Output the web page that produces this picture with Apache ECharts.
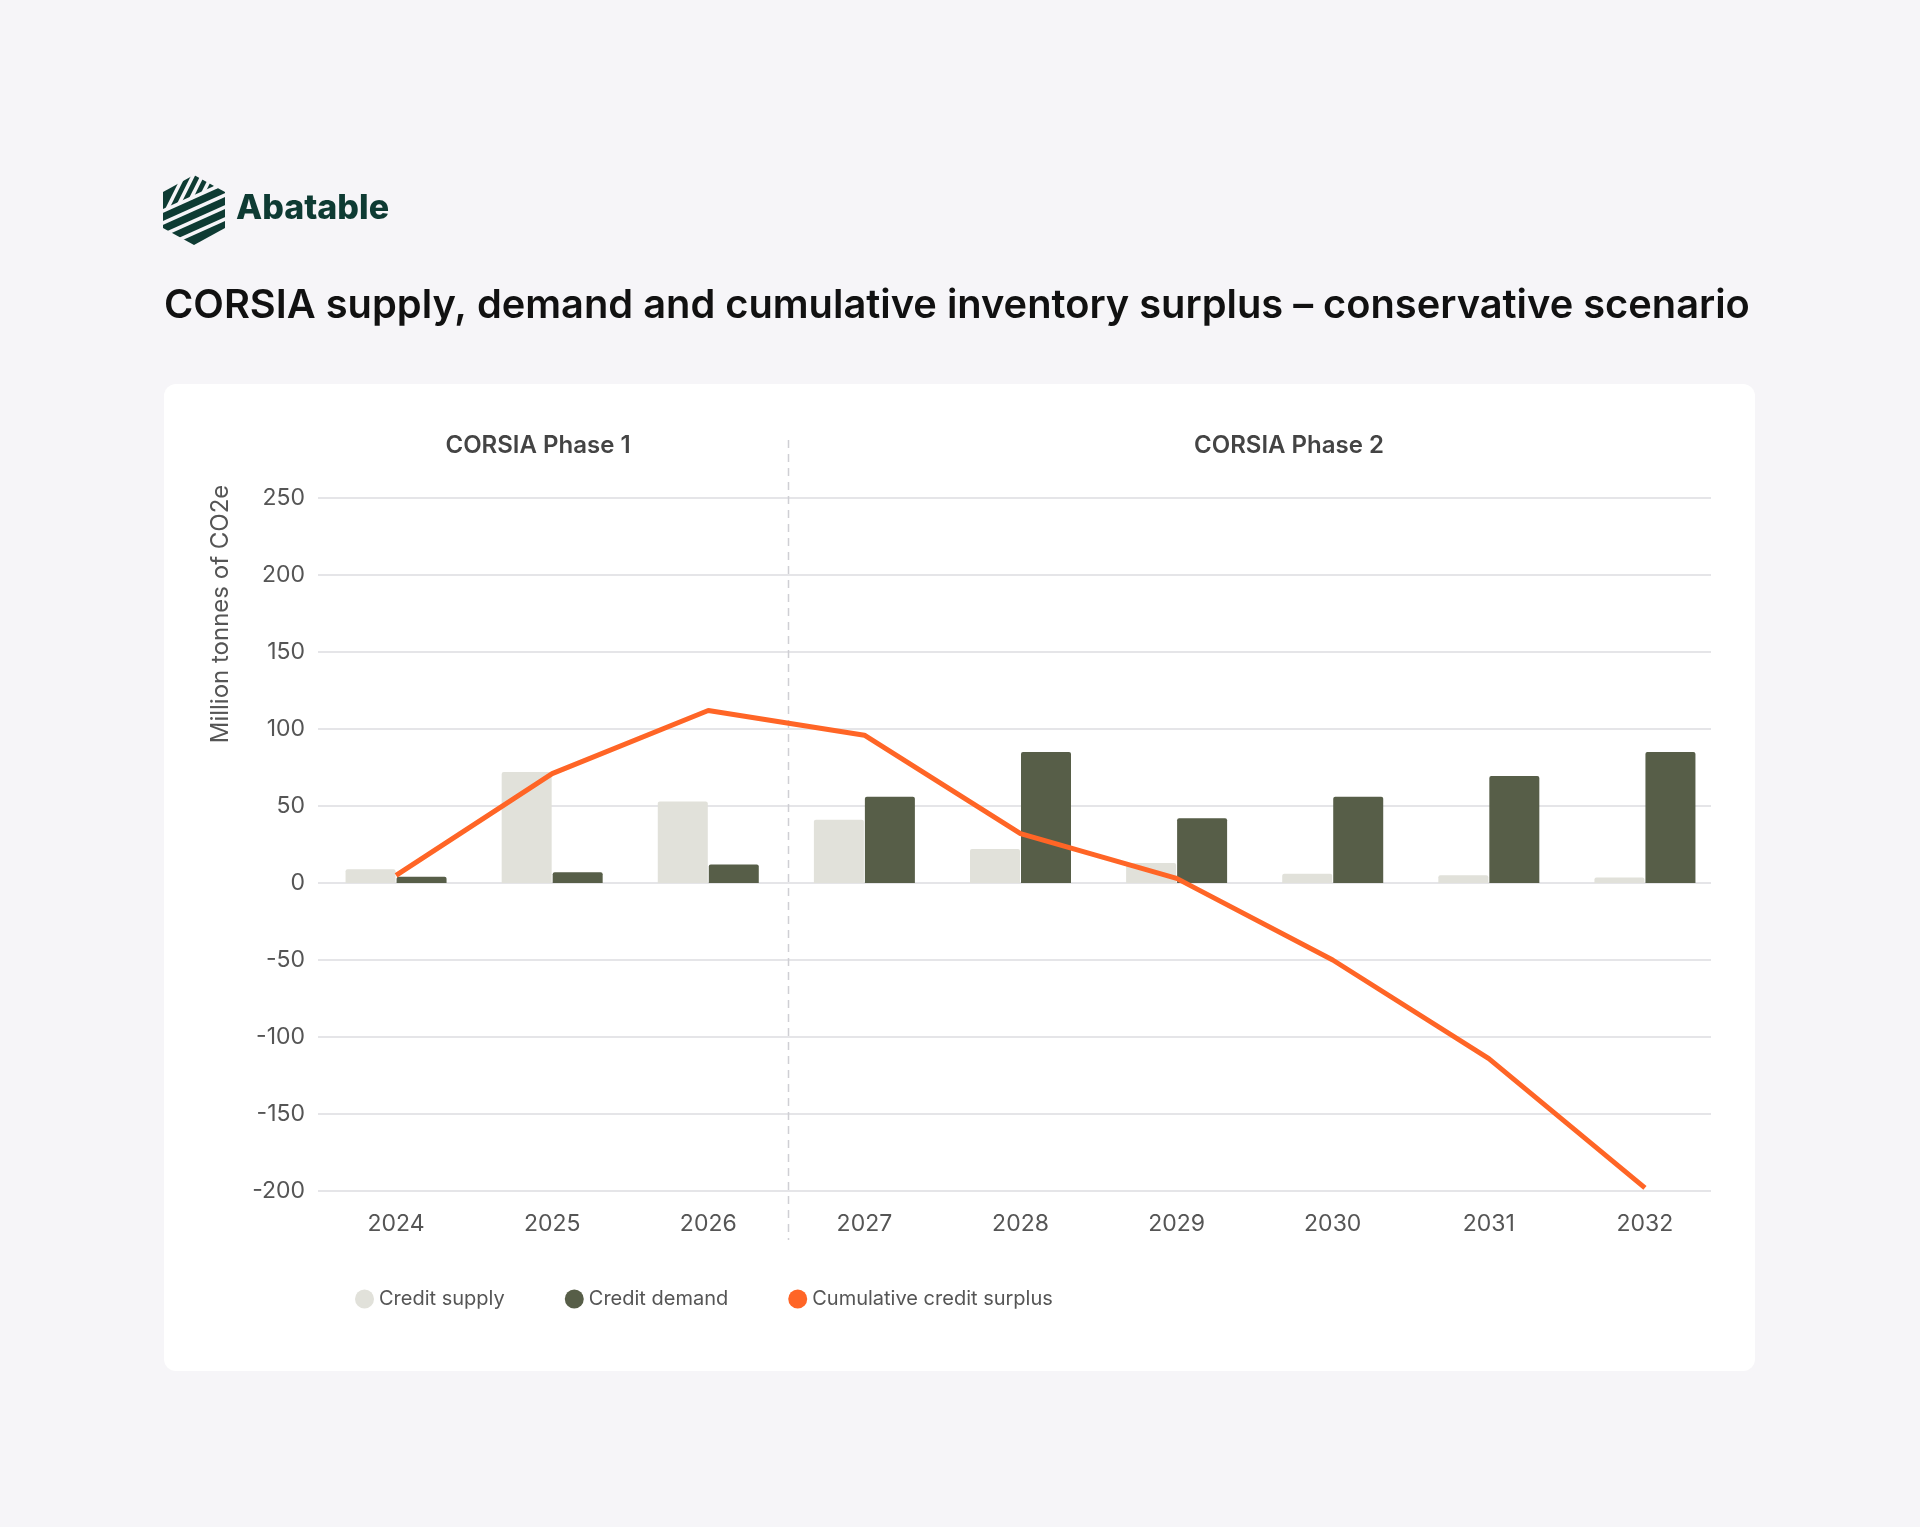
<!DOCTYPE html>
<html>
<head>
<meta charset="utf-8">
<script src="https://cdn.jsdelivr.net/npm/echarts@6/dist/echarts.min.js"></script>
<style>
  html, body { margin: 0; padding: 0; background: #f6f5f8; }
  #chart { width: 1920px; height: 1527px; }
</style>
</head>
<body>
<div id="chart"></div>
<script>
// values (million tonnes of CO2e)
var years = ['2024', '2025', '2026', '2027', '2028', '2029', '2030', '2031', '2032'];
var creditSupply = [9, 72, 53, 41, 22, 13, 6, 5, 3.5];
var creditDemand = [4, 7, 12, 56, 85, 42, 56, 69.5, 85];
var cumulativeSurplus = [5, 71, 112, 96, 32, 3, -50, -114, -198];
var yTicks = { min: -200, max: 250, step: 50 };

var BG = '#f6f5f8';
var LOGO = '#0e3b33';
var FONT = 'Inter, "Noto Sans", sans-serif';

var chart = echarts.init(document.getElementById('chart'));

// small logo: dark hexagon cut by background coloured gaps
function logoGroup() {
  var kids = [{
    type: 'polygon',
    shape: { points: [[31, 0], [62, 17], [62, 53], [31, 70], [0, 53], [0, 17]] },
    style: { fill: LOGO }
  }];
  // shallow gaps in the lower part
  [36, 48, 60, 72].forEach(function (c) {
    kids.push({
      type: 'line',
      shape: { x1: -6, y1: c + 2.7, x2: 68, y2: c - 30.6 },
      style: { stroke: BG, lineWidth: 3.6 }
    });
  });
  // steep gaps above the fold
  [4, 16, 28, 40, 52].forEach(function (px) {
    var py = 36 - 0.45 * px;
    kids.push({
      type: 'line',
      shape: { x1: px, y1: py, x2: px + (py + 6) / 2, y2: -6 },
      style: { stroke: BG, lineWidth: 3.6 }
    });
  });
  return { type: 'group', x: 163, y: 175, children: kids, z: 10 };
}

var baseGraphic = [
  {
    type: 'rect', z: -10, silent: true,
    shape: { x: 164, y: 384, width: 1591, height: 987, r: 12 },
    style: { fill: '#ffffff' }
  },
  logoGroup(),
  {
    type: 'text', x: 236, y: 209, z: 10,
    style: { text: 'Abatable', fill: LOGO, font: '800 34px ' + FONT, textVerticalAlign: 'middle' }
  },
  {
    type: 'text', x: 164, y: 306, z: 10,
    style: {
      text: 'CORSIA supply, demand and cumulative inventory surplus \u2013 conservative scenario',
      fill: '#111111', font: '600 39.8px ' + FONT, textVerticalAlign: 'middle'
    }
  },
  {
    type: 'text', x: 538, y: 446, z: 10,
    style: { text: 'CORSIA Phase 1', fill: '#444444', font: '600 24px ' + FONT, textAlign: 'center', textVerticalAlign: 'middle' }
  },
  {
    type: 'text', x: 1289, y: 446, z: 10,
    style: { text: 'CORSIA Phase 2', fill: '#444444', font: '600 24px ' + FONT, textAlign: 'center', textVerticalAlign: 'middle' }
  },
  {
    type: 'text', x: 221, y: 614, rotation: Math.PI / 2, z: 10,
    style: { text: 'Million tonnes of CO2e', fill: '#555555', font: '400 24px ' + FONT, textAlign: 'center', textVerticalAlign: 'middle' }
  }
];

var option = {
  backgroundColor: BG,
  animation: false,
  textStyle: { fontFamily: FONT },
  grid: [
    // bars and line
    { left: 318, top: 498, width: 1405, height: 693, containLabel: false },
    // horizontal rules stop a little short of the last band
    { left: 318, top: 498, width: 1393, height: 693, containLabel: false }
  ],
  legend: {
    left: 350, top: 1284,
    icon: 'circle', itemWidth: 19, itemHeight: 19, itemGap: 60,
    textStyle: { fontSize: 20, color: '#555555', fontFamily: FONT },
    data: ['Credit supply', 'Credit demand', 'Cumulative credit surplus']
  },
  xAxis: [
    {
      type: 'category',
      gridIndex: 0,
      data: years,
      axisLine: { show: false },
      axisTick: { show: false },
      axisLabel: { fontSize: 23, color: '#555555', margin: 22 }
    },
    { type: 'value', gridIndex: 1, show: false, min: 0, max: 1 }
  ],
  yAxis: [
    {
      type: 'value',
      gridIndex: 0,
      min: yTicks.min, max: yTicks.max, interval: yTicks.step,
      axisLine: { show: false },
      axisTick: { show: false },
      axisLabel: { fontSize: 23, color: '#555555', margin: 13 },
      splitLine: { show: false }
    },
    {
      type: 'value',
      gridIndex: 1,
      min: yTicks.min, max: yTicks.max, interval: yTicks.step,
      axisLine: { show: false },
      axisTick: { show: false },
      axisLabel: { show: false },
      splitLine: { lineStyle: { color: '#dcdce0', width: 1.5 } }
    }
  ],
  series: [
    {
      name: 'Credit supply', type: 'bar', data: creditSupply,
      barWidth: 50, barGap: '2%',
      itemStyle: { color: '#e1e1da', borderRadius: [2, 2, 0, 0] }
    },
    {
      name: 'Credit demand', type: 'bar', data: creditDemand,
      barWidth: 50,
      itemStyle: { color: '#575e48', borderRadius: [2, 2, 0, 0] }
    },
    {
      name: 'Cumulative credit surplus', type: 'line', data: cumulativeSurplus,
      symbol: 'none', z: 5,
      itemStyle: { color: '#ff6526' },
      lineStyle: { color: '#ff6526', width: 5 }
    }
  ],
  graphic: baseGraphic
};

chart.setOption(option);

// dashed phase divider between 2026 and 2027
var p26 = chart.convertToPixel({ xAxisIndex: 0 }, '2026');
var p27 = chart.convertToPixel({ xAxisIndex: 0 }, '2027');
var divX = Math.round((p26 + p27) / 2) + 2.5;
chart.setOption({
  graphic: baseGraphic.concat([{
    type: 'line', z: 1, silent: true,
    shape: { x1: divX, y1: 440, x2: divX, y2: 1240 },
    style: { stroke: '#cfcfd4', lineWidth: 1.5, lineDash: [8, 6] }
  }])
});
</script>
</body>
</html>
